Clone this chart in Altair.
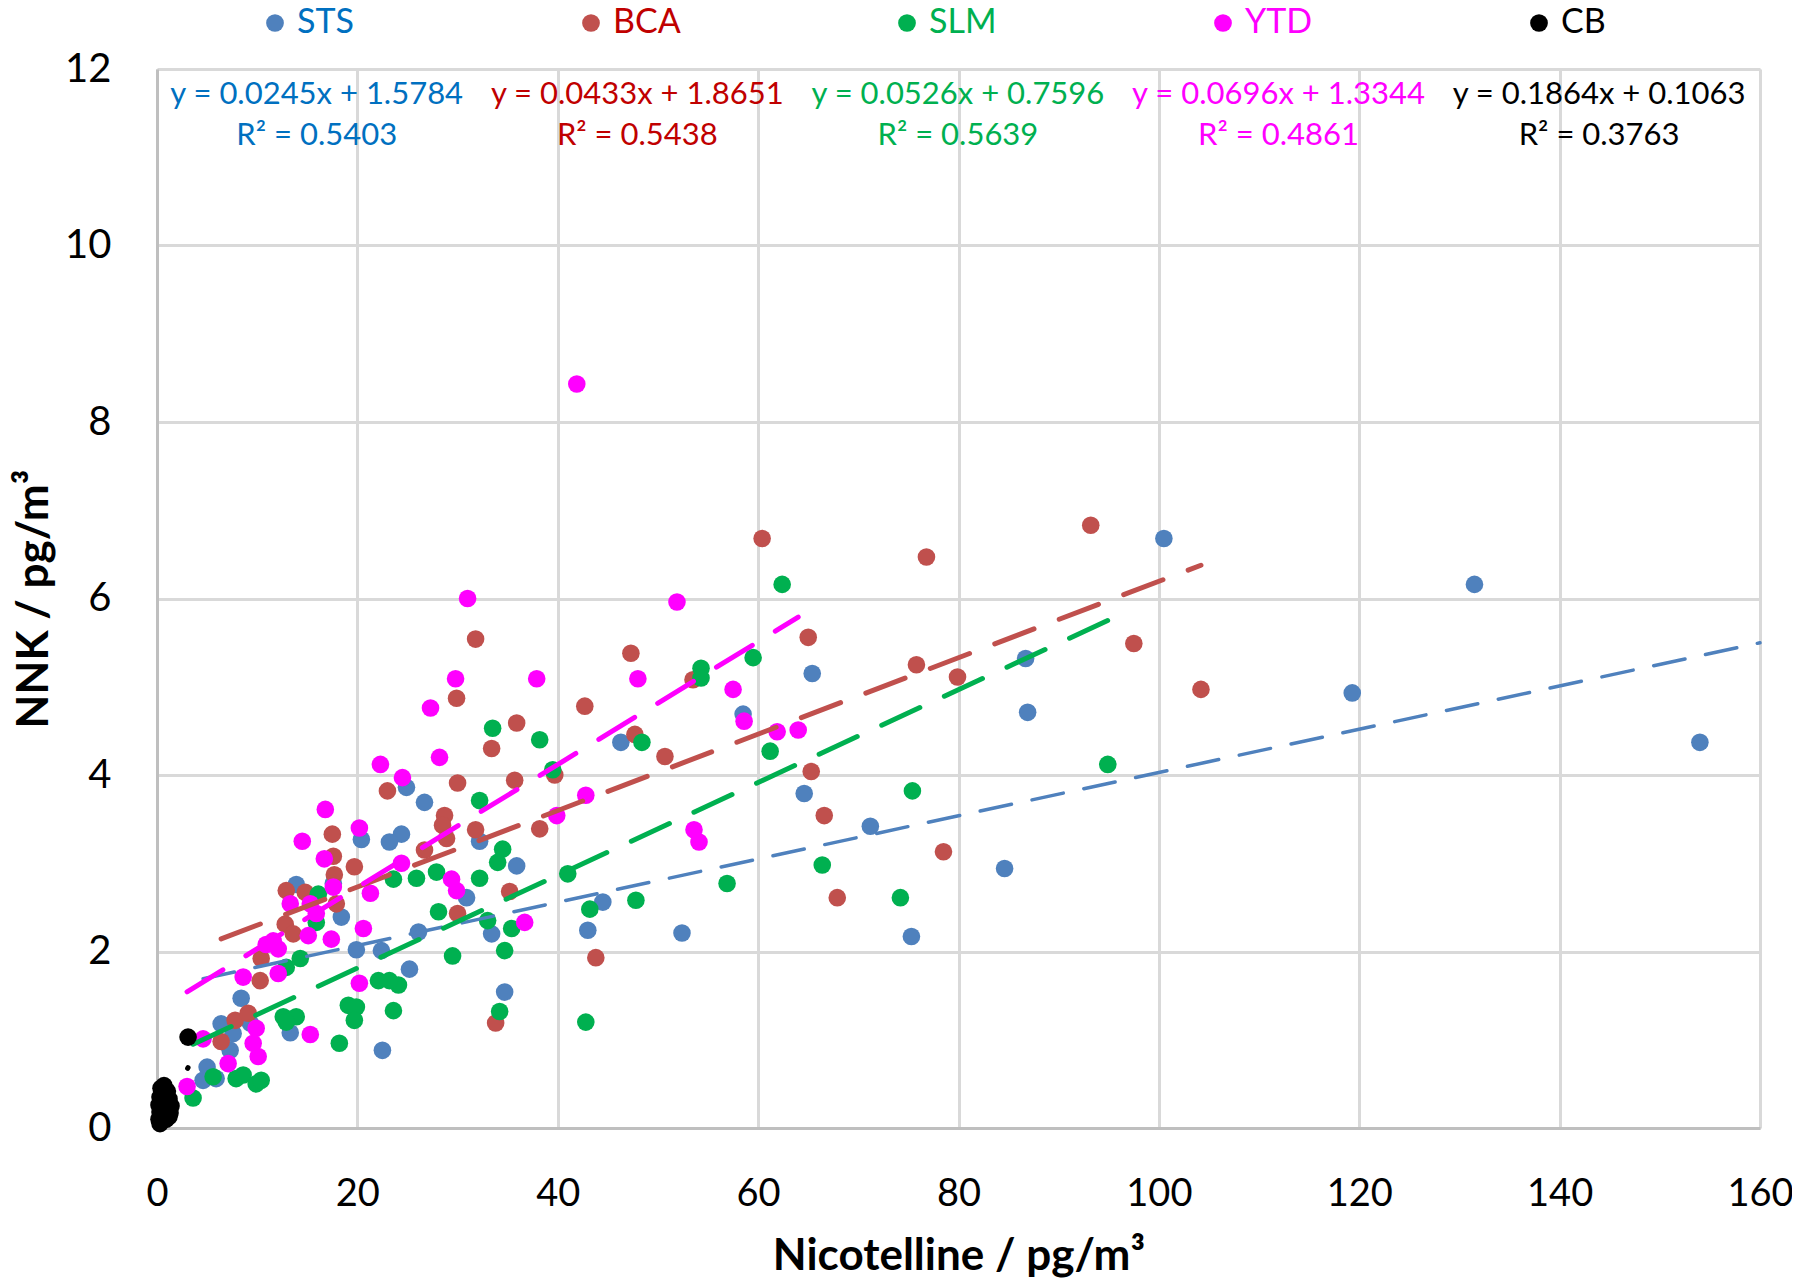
import altair as alt
import pandas as pd

series = ["STS", "BCA", "SLM", "YTD", "CB"]
marker_colors = ["#4F81BD", "#C0504D", "#00B050", "#FF00FF", "#000000"]
label_colors = ["#0070C0", "#C00000", "#00B050", "#FF00FF", "#000000"]

sts_x = [100.5, 131.5, 119.3, 154.0, 86.7, 86.9, 84.6, 75.3, 71.2, 64.6, 65.4, 58.5, 52.4, 46.3,
         44.5, 43.0, 34.7, 35.9, 33.4, 32.2, 30.9, 26.7, 24.9, 24.4, 23.2, 20.4, 26.1, 25.2, 22.5,
         22.4, 19.9, 18.4, 13.9, 17.6, 13.3, 8.4, 6.4, 7.6, 9.3, 5.0, 4.6, 5.9, 7.3]
sts_y = [6.68, 6.16, 4.93, 4.37, 5.32, 4.71, 2.94, 2.17, 3.42, 3.79, 5.15, 4.69, 2.21, 4.37,
         2.56, 2.24, 1.54, 2.97, 2.20, 3.25, 2.61, 3.69, 3.86, 3.33, 3.24, 3.27, 2.22, 1.80, 0.88,
         2.01, 2.02, 2.39, 2.76, 2.77, 1.08, 1.47, 1.18, 1.07, 1.19, 0.69, 0.54, 0.56, 0.88]

bca_x = [93.2, 60.4, 76.8, 97.5, 104.2, 65.0, 75.8, 79.9, 47.3, 31.8, 50.7, 47.7, 42.7, 35.9,
         29.9, 33.4, 35.7, 39.7, 38.2, 30.0, 28.7, 28.5, 28.9, 31.8, 23.0, 26.7, 65.3, 66.6, 67.9,
         78.5, 43.8, 33.8, 35.2, 30.0, 17.5, 17.6, 19.7, 17.7, 17.9, 12.9, 14.8, 12.8, 13.6, 10.4,
         10.3, 7.8, 9.1, 6.4, 53.5]
bca_y = [6.83, 6.68, 6.47, 5.49, 4.97, 5.56, 5.25, 5.11, 5.38, 5.54, 4.21, 4.46, 4.78, 4.59,
         4.87, 4.30, 3.94, 4.00, 3.39, 3.91, 3.54, 3.43, 3.28, 3.38, 3.82, 3.15, 4.04, 3.54, 2.61,
         3.13, 1.93, 1.19, 2.68, 2.43, 3.33, 3.08, 2.96, 2.87, 2.54, 2.69, 2.67, 2.31, 2.20, 1.92,
         1.67, 1.22, 1.30, 0.98, 5.08]

slm_x = [62.4, 59.5, 54.3, 54.3, 61.2, 48.4, 39.5, 38.2, 33.5, 32.2, 75.4, 94.9, 66.4, 56.9,
         74.2, 47.8, 41.0, 43.2, 42.8, 34.2, 34.7, 35.4, 34.5, 34.0, 29.5, 28.1, 25.9, 23.6, 27.9,
         32.2, 33.0, 24.1, 23.2, 22.1, 23.6, 19.1, 19.9, 19.7, 18.2, 16.1, 15.9, 14.3, 12.9, 12.6,
         13.9, 12.9, 5.6, 7.9, 8.6, 9.9, 10.4, 3.6]
slm_y = [6.16, 5.33, 5.21, 5.10, 4.27, 4.37, 4.06, 4.40, 4.53, 3.71, 3.82, 4.12, 2.98, 2.77,
         2.61, 2.58, 2.88, 2.48, 1.20, 1.32, 2.01, 2.26, 3.16, 3.01, 1.95, 2.45, 2.83, 2.82, 2.90,
         2.83, 2.35, 1.62, 1.67, 1.67, 1.33, 1.39, 1.37, 1.22, 0.96, 2.65, 2.33, 1.92, 1.82, 1.26,
         1.26, 1.20, 0.58, 0.56, 0.60, 0.50, 0.54, 0.34]

ytd_x = [41.9, 31.0, 51.9, 29.8, 37.9, 48.0, 57.5, 27.3, 58.6, 61.9, 64.0, 28.2, 22.3, 24.5,
         42.8, 39.9, 16.8, 20.2, 53.6, 54.1, 24.4, 29.4, 29.9, 21.3, 36.7, 20.6, 20.2, 14.5, 16.7,
         17.6, 13.3, 15.3, 15.9, 11.6, 10.9, 12.1, 15.1, 17.4, 8.6, 12.1, 4.6, 9.9, 9.6, 10.1, 7.1,
         15.3, 3.0]
ytd_y = [8.43, 6.00, 5.96, 5.09, 5.09, 5.09, 4.97, 4.76, 4.61, 4.49, 4.51, 4.20, 4.12, 3.97,
         3.77, 3.54, 3.61, 3.40, 3.38, 3.24, 3.00, 2.82, 2.69, 2.66, 2.33, 2.26, 1.64, 3.25, 3.05,
         2.73, 2.54, 2.54, 2.43, 2.12, 2.08, 2.03, 2.18, 2.14, 1.71, 1.75, 1.01, 1.13, 0.96, 0.81,
         0.73, 1.06, 0.47]

cb_x = [0.2, 0.4, 0.6, 0.9, 1.2, 0.3, 0.7, 1.0, 1.3, 0.2, 0.5, 0.8, 1.1, 0.3, 0.6, 0.9, 1.2,
        0.4, 0.7, 1.0, 0.5, 0.8, 1.4, 0.3, 3.1]
cb_y = [0.10, 0.08, 0.12, 0.10, 0.13, 0.18, 0.20, 0.22, 0.17, 0.26, 0.28, 0.30, 0.27, 0.35,
        0.38, 0.36, 0.33, 0.45, 0.48, 0.42, 0.15, 0.40, 0.25, 0.05, 1.03]

slopes = [0.0245, 0.0433, 0.0526, 0.0696, 0.1864]
intercepts = [1.5784, 1.8651, 0.7596, 1.3344, 0.1063]
r_squared = [0.5403, 0.5438, 0.5639, 0.4861, 0.3763]
forecast_forward = [6.0, 0.0, 0.0, 0.0, 0.0]

x_ticks = [0, 20, 40, 60, 80, 100, 120, 140, 160]
y_ticks = [0, 2, 4, 6, 8, 10, 12]

xs_all = [sts_x, bca_x, slm_x, ytd_x, cb_x]
ys_all = [sts_y, bca_y, slm_y, ytd_y, cb_y]

rows = []
for s, xs, ys in zip(series, xs_all, ys_all):
    for a, b in zip(xs, ys):
        rows.append({"series": s, "x": a, "y": b})
df_pts = pd.DataFrame(rows)

FONT = "Lato"

x_enc = alt.X("x:Q", scale=alt.Scale(domain=[0, 160], nice=False, zero=False),
              axis=alt.Axis(values=x_ticks, title="Nicotelline / pg/m³", grid=True,
                            gridColor="#D9D9D9", gridWidth=3, domainColor="#BFBFBF",
                            domainWidth=3, ticks=False, tickSize=0, labelFont=FONT,
                            labelFontSize=38, labelColor="#000000", labelPadding=47,
                            labelFlush=False, titleFont=FONT, titleFontSize=44,
                            titleFontWeight="bold", titleColor="#000000", titlePadding=21))
y_enc = alt.Y("y:Q", scale=alt.Scale(domain=[0, 12], nice=False, zero=False),
              axis=alt.Axis(values=y_ticks, title="NNK / pg/m³", grid=True,
                            gridColor="#D9D9D9", gridWidth=3, domainColor="#BFBFBF",
                            domainWidth=3, ticks=False, tickSize=0, labelFont=FONT,
                            labelFontSize=40, labelColor="#000000", labelPadding=46,
                            labelFlush=False, titleFont=FONT, titleFontSize=44,
                            titleFontWeight="bold", titleColor="#000000", titlePadding=8))

color_expr = ""
for s, c in zip(series[:-1], label_colors[:-1]):
    color_expr += f"datum.label == '{s}' ? '{c}' : "
color_expr += f"'{label_colors[-1]}'"

legend = alt.Legend(orient="none", legendX=101, legendY=-63, direction="horizontal",
                    columns=5, gridAlign="all", columnPadding=209, title=None,
                    symbolType="circle", symbolSize=314, symbolStrokeWidth=0,
                    symbolOpacity=1, labelFont=FONT, labelFontSize=34, labelOffset=5,
                    labelColor={"expr": color_expr}, padding=0)

color_enc = alt.Color("series:N", scale=alt.Scale(domain=series, range=marker_colors),
                      legend=legend)

POINT_SIZE = 310
pts_main = alt.Chart(df_pts[df_pts.series != "CB"]).mark_circle(size=POINT_SIZE, opacity=1).encode(
    x=x_enc, y=y_enc, color=color_enc)
pts_cb = alt.Chart(df_pts[df_pts.series == "CB"]).mark_circle(size=POINT_SIZE, opacity=1).encode(
    x=x_enc, y=y_enc, color=color_enc)

layers = [pts_main]
dash_styles = [([32, 21], 3.5, 0), ([42, 27], 5, 0), ([42, 27], 5, 0), ([42, 27], 5, 0),
               ([42, 27], 5, 14)]
for i, s in enumerate(series):
    x0 = min(xs_all[i])
    x1 = max(xs_all[i]) + forecast_forward[i]
    tdf = pd.DataFrame({"x": [x0, x1],
                        "y": [slopes[i] * x0 + intercepts[i], slopes[i] * x1 + intercepts[i]]})
    dash, w, off = dash_styles[i]
    layers.append(alt.Chart(tdf).mark_line(color=marker_colors[i], strokeWidth=w,
                                           strokeDash=dash, strokeDashOffset=off,
                                           strokeCap="round").encode(x=x_enc, y=y_enc))
layers.append(pts_cb)

for i, s in enumerate(series):
    cx = 15.94 + 32 * i
    edf = pd.DataFrame({"x": [cx, cx],
                        "y": [11.70, 11.24],
                        "text": [f"y = {slopes[i]:.4f}x + {intercepts[i]:.4f}",
                                 f"R² = {r_squared[i]:.4f}"]})
    layers.append(alt.Chart(edf).mark_text(font=FONT, fontSize=31, align="center",
                                           baseline="middle", color=label_colors[i]).encode(
        x=x_enc, y=y_enc, text="text:N"))

chart = alt.layer(*layers).properties(
    width=1603, height=1059,
    padding={"left": 149, "top": 61, "right": 32, "bottom": 150},
    autosize=alt.AutoSizeParams(type="none"),
).configure_view(stroke=None).configure(font=FONT, background="white")

chart.save("out.html", embed_options={"renderer": "svg", "actions": False})
